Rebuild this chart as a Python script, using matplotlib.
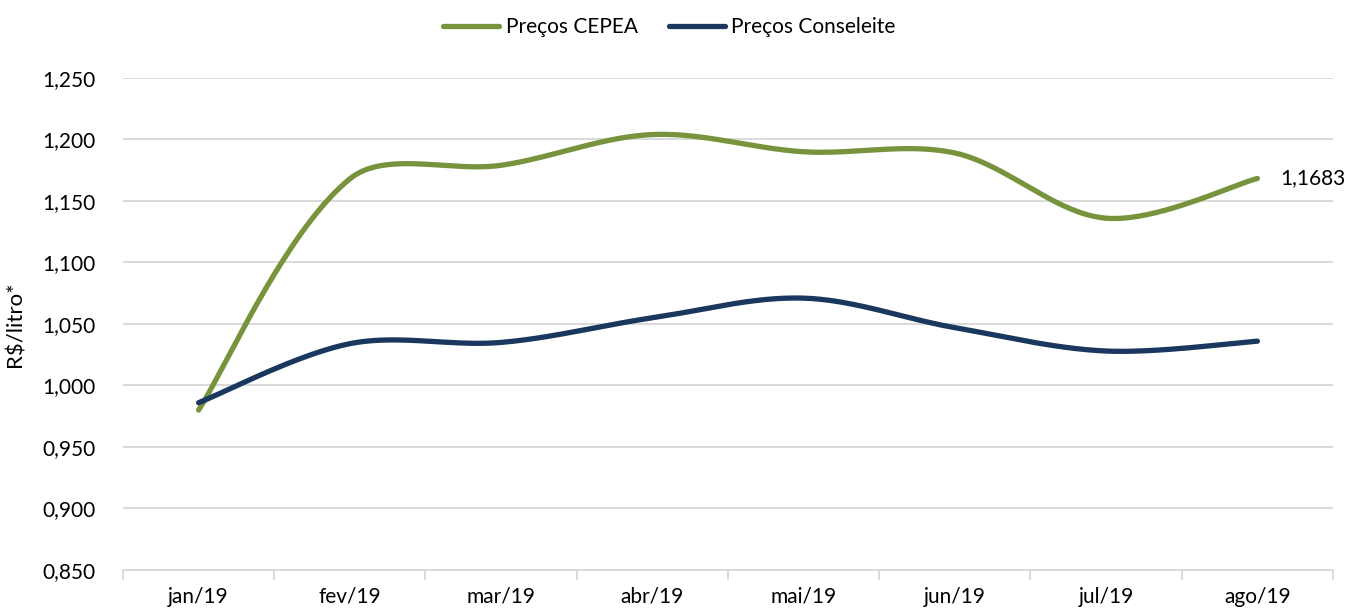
import numpy as np
import matplotlib.pyplot as plt
from matplotlib.lines import Line2D

plt.rcParams['font.family'] = ['Lato', 'DejaVu Sans']
plt.rcParams['font.size'] = 15

# Dados
meses = ['jan/19', 'fev/19', 'mar/19', 'abr/19', 'mai/19', 'jun/19', 'jul/19', 'ago/19']
cepea = [0.980, 1.168, 1.179, 1.204, 1.190, 1.189, 1.136, 1.1683]
conseleite = [0.986, 1.034, 1.035, 1.055, 1.071, 1.047, 1.028, 1.036]
yticks = [0.85, 0.90, 0.95, 1.00, 1.05, 1.10, 1.15, 1.20, 1.25]
ytick_labels = ['0,850', '0,900', '0,950', '1,000', '1,050', '1,100', '1,150', '1,200', '1,250']

verde = '#77933C'
azul = '#1A3760'


# suavizacao tipo Excel: Bezier com tangentes ponderadas pelo comprimento
# dos segmentos em pixels (escala x ~151 px/mes, y ~1230 px/unidade)
def suave(y, n=40, sx=151.0, sy=1230.0):
    P = np.column_stack([np.arange(len(y)) * sx, np.asarray(y, float) * sy])
    m = len(P)
    px, py = [], []
    for i in range(m - 1):
        a = P[i - 1] if i > 0 else P[i]
        b, c = P[i], P[i + 1]
        d = P[i + 2] if i + 2 < m else P[i + 1]
        dab, dbc, dcd = [max(np.hypot(*v), 1e-9) for v in (b - a, c - b, d - c)]
        if i == 0:
            c1 = b + (c - a) / 6
        else:
            c1 = b + (c - a) / 3 * dbc / (dab + dbc)
        if i + 2 >= m:
            c2 = c - (d - b) / 6
        else:
            c2 = c - (d - b) / 3 * dbc / (dbc + dcd)
        t = np.linspace(0, 1, n)[:, None]
        B = (1-t)**3*b + 3*(1-t)**2*t*c1 + 3*(1-t)*t**2*c2 + t**3*c
        px.extend(B[:, 0] / sx)
        py.extend(B[:, 1] / sy)
    return np.array(px), np.array(py)


fig = plt.figure(figsize=(13.47, 6.10), dpi=100)
ax = fig.add_axes([0.0913, 0.0656, 0.8983, 0.8066])

xs, ys = suave(cepea)
ax.plot(xs, ys, color=verde, lw=3.8, solid_capstyle='round', zorder=3)
xs, ys = suave(conseleite)
ax.plot(xs, ys, color=azul, lw=3.8, solid_capstyle='round', zorder=4)

ax.text(len(meses) - 1 + 0.15, cepea[-1], '1,1683', va='center', ha='left')

ax.set_xlim(-0.5, len(meses) - 0.5)
ax.set_ylim(0.85, 1.25)
ax.set_yticks(yticks)
ax.set_yticklabels(ytick_labels)
ax.yaxis.grid(True, color='#D9D9D9', lw=1.4)
ax.set_axisbelow(True)

ax.set_xticks(np.arange(-0.5, len(meses), 1))
ax.set_xticklabels([])
ax.set_xticks(np.arange(len(meses)), minor=True)
ax.set_xticklabels(meses, minor=True)
ax.tick_params(axis='x', which='major', length=7, color='#D9D9D9', width=1.4)
ax.tick_params(axis='x', which='minor', length=0, pad=12)
ax.tick_params(axis='y', length=0, pad=20)

for s in ['top', 'right', 'left']:
    ax.spines[s].set_visible(False)
ax.spines['bottom'].set_color('#D9D9D9')
ax.spines['bottom'].set_linewidth(1.4)

ax.set_ylabel('R$/litro*', fontsize=16, labelpad=12)

handles = [Line2D([], [], color=verde, lw=3.8, solid_capstyle='round'),
           Line2D([], [], color=azul, lw=3.8, solid_capstyle='round')]
fig.legend(handles, ['Preços CEPEA', 'Preços Conseleite'], loc='center',
           bbox_to_anchor=(0.497, 0.955), ncol=2, frameon=False,
           handlelength=2.7, handletextpad=0.3, columnspacing=1.5)

fig.savefig('out.png', dpi=100)
